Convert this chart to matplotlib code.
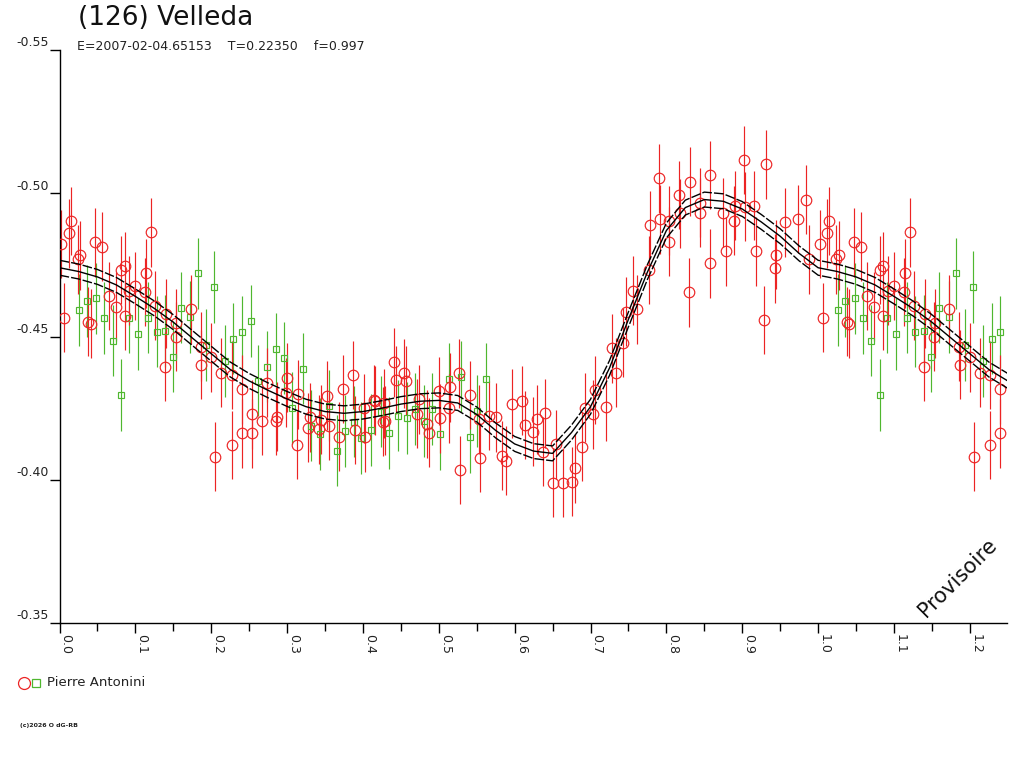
import numpy as np
import matplotlib
matplotlib.use("Agg")
import matplotlib.pyplot as plt
from matplotlib.lines import Line2D
from matplotlib.ticker import MultipleLocator

# ---------------- data (phase, relative magnitude) ----------------
red_phase = [0.002, 0.006, 0.012, 0.015, 0.024, 0.027, 0.038, 0.041, 0.047, 0.056,
             0.065, 0.074, 0.081, 0.086, 0.086, 0.092, 0.100, 0.113, 0.114, 0.121,
             0.126, 0.139, 0.141, 0.153, 0.154, 0.173, 0.186, 0.187, 0.200, 0.205,
             0.213, 0.227, 0.227, 0.240, 0.240, 0.254, 0.254, 0.267, 0.273, 0.285,
             0.287, 0.299, 0.300, 0.313, 0.314, 0.328, 0.330, 0.342, 0.345, 0.353,
             0.355, 0.369, 0.374, 0.387, 0.389, 0.401, 0.403, 0.415, 0.416, 0.427,
             0.428, 0.429, 0.441, 0.443, 0.454, 0.457, 0.471, 0.474, 0.485, 0.487,
             0.500, 0.501, 0.513, 0.515, 0.526, 0.528, 0.541, 0.553, 0.554, 0.566,
             0.576, 0.583, 0.588, 0.597, 0.610, 0.614, 0.624, 0.629, 0.637, 0.640,
             0.651, 0.655, 0.664, 0.676, 0.680, 0.689, 0.693, 0.703, 0.706, 0.720,
             0.728, 0.733, 0.743, 0.747, 0.756, 0.761, 0.777, 0.778, 0.790, 0.791,
             0.803, 0.804, 0.817, 0.818, 0.830, 0.831, 0.844, 0.844, 0.857, 0.857,
             0.875, 0.878, 0.889, 0.890, 0.902, 0.903, 0.915, 0.918, 0.929, 0.931,
             0.943, 0.944, 0.956, 0.973, 0.984, 0.988]
red_mag = [-0.4823, -0.4566, -0.4860, -0.4903, -0.4770, -0.4784, -0.4552, -0.4545, -0.4829, -0.4814,
           -0.4641, -0.4604, -0.4732, -0.4746, -0.4572, -0.4660, -0.4676, -0.4655, -0.4721, -0.4864,
           -0.4607, -0.4395, -0.4579, -0.4500, -0.4546, -0.4595, -0.4465, -0.4401, -0.4428, -0.4081,
           -0.4374, -0.4366, -0.4121, -0.4316, -0.4162, -0.4229, -0.4162, -0.4206, -0.4339, -0.4205,
           -0.4220, -0.4304, -0.4356, -0.4121, -0.4298, -0.4182, -0.4218, -0.4176, -0.4209, -0.4294,
           -0.4188, -0.4150, -0.4317, -0.4366, -0.4174, -0.4250, -0.4148, -0.4279, -0.4276, -0.4203,
           -0.4267, -0.4206, -0.4410, -0.4348, -0.4372, -0.4346, -0.4230, -0.4281, -0.4195, -0.4164,
           -0.4310, -0.4215, -0.4250, -0.4323, -0.4372, -0.4034, -0.4296, -0.4211, -0.4077, -0.4224,
           -0.4218, -0.4084, -0.4066, -0.4265, -0.4276, -0.4191, -0.4168, -0.4211, -0.4098, -0.4232,
           -0.3990, -0.4124, -0.3990, -0.3993, -0.4040, -0.4116, -0.4252, -0.4229, -0.4313, -0.4255,
           -0.4459, -0.4374, -0.4479, -0.4587, -0.4660, -0.4595, -0.4732, -0.4889, -0.5052, -0.4909,
           -0.4904, -0.4831, -0.4994, -0.4930, -0.4654, -0.5040, -0.4967, -0.4932, -0.5064, -0.4756,
           -0.4932, -0.4798, -0.4904, -0.4956, -0.5116, -0.4953, -0.4956, -0.4798, -0.4558, -0.5101,
           -0.4738, -0.4785, -0.4899, -0.4910, -0.4977, -0.4769]
red_err = 0.0120

green_phase = [0.026, 0.036, 0.048, 0.059, 0.070, 0.081, 0.091, 0.103, 0.117, 0.128,
               0.139, 0.149, 0.160, 0.172, 0.182, 0.193, 0.204, 0.218, 0.229, 0.240,
               0.252, 0.262, 0.273, 0.285, 0.296, 0.307, 0.321, 0.332, 0.344, 0.355,
               0.366, 0.376, 0.388, 0.398, 0.410, 0.424, 0.435, 0.446, 0.458, 0.469,
               0.480, 0.491, 0.502, 0.513, 0.529, 0.541, 0.551, 0.562]
green_mag = [-0.4593, -0.4624, -0.4633, -0.4564, -0.4486, -0.4296, -0.4566, -0.4508, -0.4566, -0.4517,
             -0.4519, -0.4430, -0.4601, -0.4569, -0.4720, -0.4470, -0.4672, -0.4415, -0.4493, -0.4515,
             -0.4555, -0.4346, -0.4395, -0.4457, -0.4426, -0.4250, -0.4388, -0.4189, -0.4160, -0.4259,
             -0.4102, -0.4170, -0.4203, -0.4145, -0.4174, -0.4238, -0.4164, -0.4224, -0.4215, -0.4247,
             -0.4206, -0.4247, -0.4158, -0.4351, -0.4360, -0.4150, -0.4240, -0.4351]
green_err = 0.0125

# fitted light-curve model, read at phase steps of 0.025
curve_phase = [0.000, 0.025, 0.050, 0.075, 0.100, 0.125, 0.150, 0.175, 0.200, 0.225,
               0.250, 0.275, 0.300, 0.325, 0.350, 0.375, 0.400, 0.425, 0.450, 0.475,
               0.500, 0.525, 0.550, 0.575, 0.600, 0.625, 0.650, 0.675, 0.700, 0.725,
               0.750, 0.775, 0.800, 0.825, 0.850, 0.875, 0.900, 0.925, 0.950, 0.975, 1.000]
curve_mag = [-0.4740, -0.4727, -0.4708, -0.4680, -0.4640, -0.4598, -0.4550, -0.4495, -0.4440, -0.4385,
             -0.4345, -0.4312, -0.4282, -0.4255, -0.4238, -0.4232, -0.4238, -0.4250, -0.4264, -0.4274,
             -0.4277, -0.4268, -0.4228, -0.4172, -0.4125, -0.4100, -0.4092, -0.4165, -0.4255, -0.4390,
             -0.4560, -0.4725, -0.4870, -0.4950, -0.4978, -0.4972, -0.4945, -0.4900, -0.4850, -0.4790, -0.4740]
curve_sigma = 0.0026

x_ticks = [0.0, 0.1, 0.2, 0.3, 0.4, 0.5, 0.6, 0.7, 0.8, 0.9, 1.0, 1.1, 1.2]
y_ticks = [-0.55, -0.50, -0.45, -0.40, -0.35]

title = "(126) Velleda"
subtitle = "E=2007-02-04.65153    T=0.22350    f=0.997"
observer = "Pierre Antonini"
XMAX = 1.249

# ---------------- periodic extension beyond phase 1 ----------------
def extend(ph, mg, limit=XMAX):
    ph = np.asarray(ph, float)
    mg = np.asarray(mg, float)
    sel = ph + 1.0 <= limit
    return np.concatenate([ph, ph[sel] + 1.0]), np.concatenate([mg, mg[sel]])

rp, rm = extend(red_phase, red_mag)
gp, gm = extend(green_phase, green_mag)
cp, cm = extend(curve_phase[:-1], curve_mag[:-1], limit=XMAX + 0.03)

RED = "#ec2424"
GREEN = "#4fb72f"

plt.rcParams['font.family'] = ['DejaVu Sans']
fig = plt.figure(figsize=(10.24, 7.68), dpi=100)
ax = fig.add_axes([59.5 / 1024, 1 - 623 / 768, (1007 - 59.5) / 1024, (623 - 50) / 768])

# green observations
ax.errorbar(gp, gm, yerr=green_err, fmt='none', ecolor=GREEN, elinewidth=0.85, capsize=0, zorder=2)
ax.plot(gp, gm, linestyle='none', marker='s', markersize=5.0, markerfacecolor='none',
        markeredgecolor=GREEN, markeredgewidth=0.85, zorder=3)
# red observations
ax.errorbar(rp, rm, yerr=red_err, fmt='none', ecolor=RED, elinewidth=0.85, capsize=0, zorder=2)
ax.plot(rp, rm, linestyle='none', marker='o', markersize=7.6, markerfacecolor='none',
        markeredgecolor=RED, markeredgewidth=0.85, zorder=3)

# model curve
ax.plot(cp, cm, color='black', lw=1.0, zorder=5)
ax.plot(cp, cm - curve_sigma, color='black', lw=1.0, linestyle=(0, (7, 1.5)), zorder=5)
ax.plot(cp, cm + curve_sigma, color='black', lw=1.0, linestyle=(0, (7, 1.5)), zorder=5)

ax.set_xlim(0, XMAX)
ax.set_ylim(-0.35, -0.55)

for s in ['top', 'right']:
    ax.spines[s].set_visible(False)
for s in ['left', 'bottom']:
    ax.spines[s].set_linewidth(1.0)

ax.set_xticks(x_ticks)
ax.set_xticklabels([f"{t:.1f}" for t in x_ticks], rotation=-90, ha='left', va='top',
                   fontsize=9, color='#222222')
ax.xaxis.set_minor_locator(MultipleLocator(0.05))
ax.tick_params(axis='x', which='major', direction='out', length=7.2, width=1.0, pad=1)
ax.tick_params(axis='x', which='minor', direction='out', length=5.8, width=1.0)

ax.set_yticks(y_ticks)
ax.set_yticklabels([])
ax.tick_params(axis='y', which='major', direction='out', length=7.2, width=1.0)
for v in y_ticks:
    ax.annotate(f"{v:.2f}", xy=(0, v), xycoords=ax.get_yaxis_transform(),
                xytext=(-7.5, 0.5), textcoords='offset points', ha='right', va='bottom',
                fontsize=9, color='#222222')

# texts
fig.text(78 / 1024, 1 - 5 / 768, title, fontsize=19, ha='left', va='top', color='#111111')
fig.text(77 / 1024, 1 - 46 / 768, subtitle, fontsize=9, ha='left', va='center', color='#222222')
fig.text(958 / 1024, 1 - 578 / 768, "Provisoire", fontsize=15, rotation=45,
         ha='center', va='center', color='#111111')

# legend
fig.add_artist(Line2D([24 / 1024], [1 - 683 / 768], marker='o', markersize=8.6,
                      markerfacecolor='none', markeredgecolor=RED, markeredgewidth=0.9,
                      linestyle='none', transform=fig.transFigure))
fig.add_artist(Line2D([36 / 1024], [1 - 683 / 768], marker='s', markersize=5.6,
                      markerfacecolor='none', markeredgecolor=GREEN, markeredgewidth=0.9,
                      linestyle='none', transform=fig.transFigure))
fig.text(47 / 1024, 1 - 683 / 768, observer, fontsize=9.5, ha='left', va='center', color='#222222')
fig.text(20 / 1024, 1 - 725 / 768, "(c)2026 O dG-RB", fontsize=4.5, fontweight='bold',
         ha='left', va='center', color='#222222')

fig.savefig("out.png", dpi=100)
